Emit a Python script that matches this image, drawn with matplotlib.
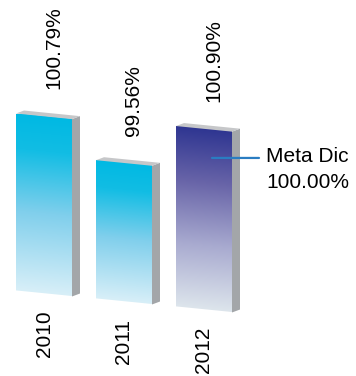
import numpy as np
import matplotlib.pyplot as plt
from matplotlib.colors import LinearSegmentedColormap
from matplotlib.patches import Polygon
from matplotlib.transforms import Affine2D

years = ['2010', '2011', '2012']
values = [100.79, 99.56, 100.90]
value_labels = ['100.79%', '99.56%', '100.90%']
target = 100.00
target_name = 'Meta Dic'
target_label = '100.00%'
baseline = 95.15  # visual floor of the truncated axis

plt.rcParams['font.family'] = ['Liberation Sans', 'DejaVu Sans']
plt.rcParams['font.size'] = 15

cyan = LinearSegmentedColormap.from_list('cyan', [
    (0.0, '#d8eff8'), (0.45, '#80cfec'), (0.8, '#12bde4'), (1.0, '#00b9e3')])
navy = LinearSegmentedColormap.from_list('navy', [
    (0.0, '#dde5ec'), (0.35, '#a9abd0'), (0.7, '#6864a8'), (1.0, '#2e3591')])
bar_maps = [cyan, cyan, navy]

fig = plt.figure(figsize=(3.56, 3.76), dpi=100)
ax = fig.add_axes([0, 0, 1, 1])
ax.axis('off')
ax.set_xlim(-0.55, 3.9)
ax.set_ylim(92.393, 104.348)

# slight perspective: everything drops a bit to the right
trans = ax.transData + Affine2D().skew(0, np.arctan(-0.1))

x = np.arange(len(years))
bars = ax.bar(x, np.array(values) - baseline, width=0.7, bottom=baseline,
              color='none', edgecolor='none', transform=trans)

ddx, ddy = 0.1, 0.12  # depth of the boxes
grad = np.linspace(0, 1, 256).reshape(-1, 1)
for rect, cmap in zip(bars, bar_maps):
    x0 = rect.get_x()
    x1 = x0 + rect.get_width()
    y0 = rect.get_y()
    y1 = y0 + rect.get_height()
    img = ax.imshow(grad, extent=[x0, x1, y0, y1], cmap=cmap, origin='lower',
                    aspect='auto', interpolation='bilinear', transform=trans)
    img.set_clip_path(rect)
    ax.add_patch(Polygon([(x1, y0), (x1, y1), (x1 + ddx, y1 + ddy), (x1 + ddx, y0 + ddy)],
                         closed=True, fc='#a3a6a9', ec='none', transform=trans))
    ax.add_patch(Polygon([(x0, y1), (x1, y1), (x1 + ddx, y1 + ddy), (x0 + ddx, y1 + ddy)],
                         closed=True, fc='#c6c7c9', ec='none', transform=trans))

for i, (v, lab) in enumerate(zip(values, value_labels)):
    ax.annotate(lab, xy=(i, v), xycoords=trans, xytext=(10, 27), textcoords='offset pixels',
                rotation=90, ha='center', va='bottom')

for i, yr in enumerate(years):
    ax.annotate(yr, xy=(i, baseline), xycoords=trans, xytext=(0, -17), textcoords='offset pixels',
                rotation=90, ha='center', va='top')

# target marker on the 2012 bar
ax.annotate('', xy=(2.1, target), xycoords=trans, xytext=(47, 0), textcoords='offset pixels',
            arrowprops=dict(arrowstyle='-', color='#2a7dc2', lw=1.6, shrinkA=0, shrinkB=0))
ax.annotate(target_name, xy=(2.1, target), xycoords=trans, xytext=(54, 1),
            textcoords='offset pixels', ha='left', va='center')
ax.annotate(target_label, xy=(2.1, target), xycoords=trans, xytext=(54, -25),
            textcoords='offset pixels', ha='left', va='center')

fig.savefig('out.png', dpi=100)
